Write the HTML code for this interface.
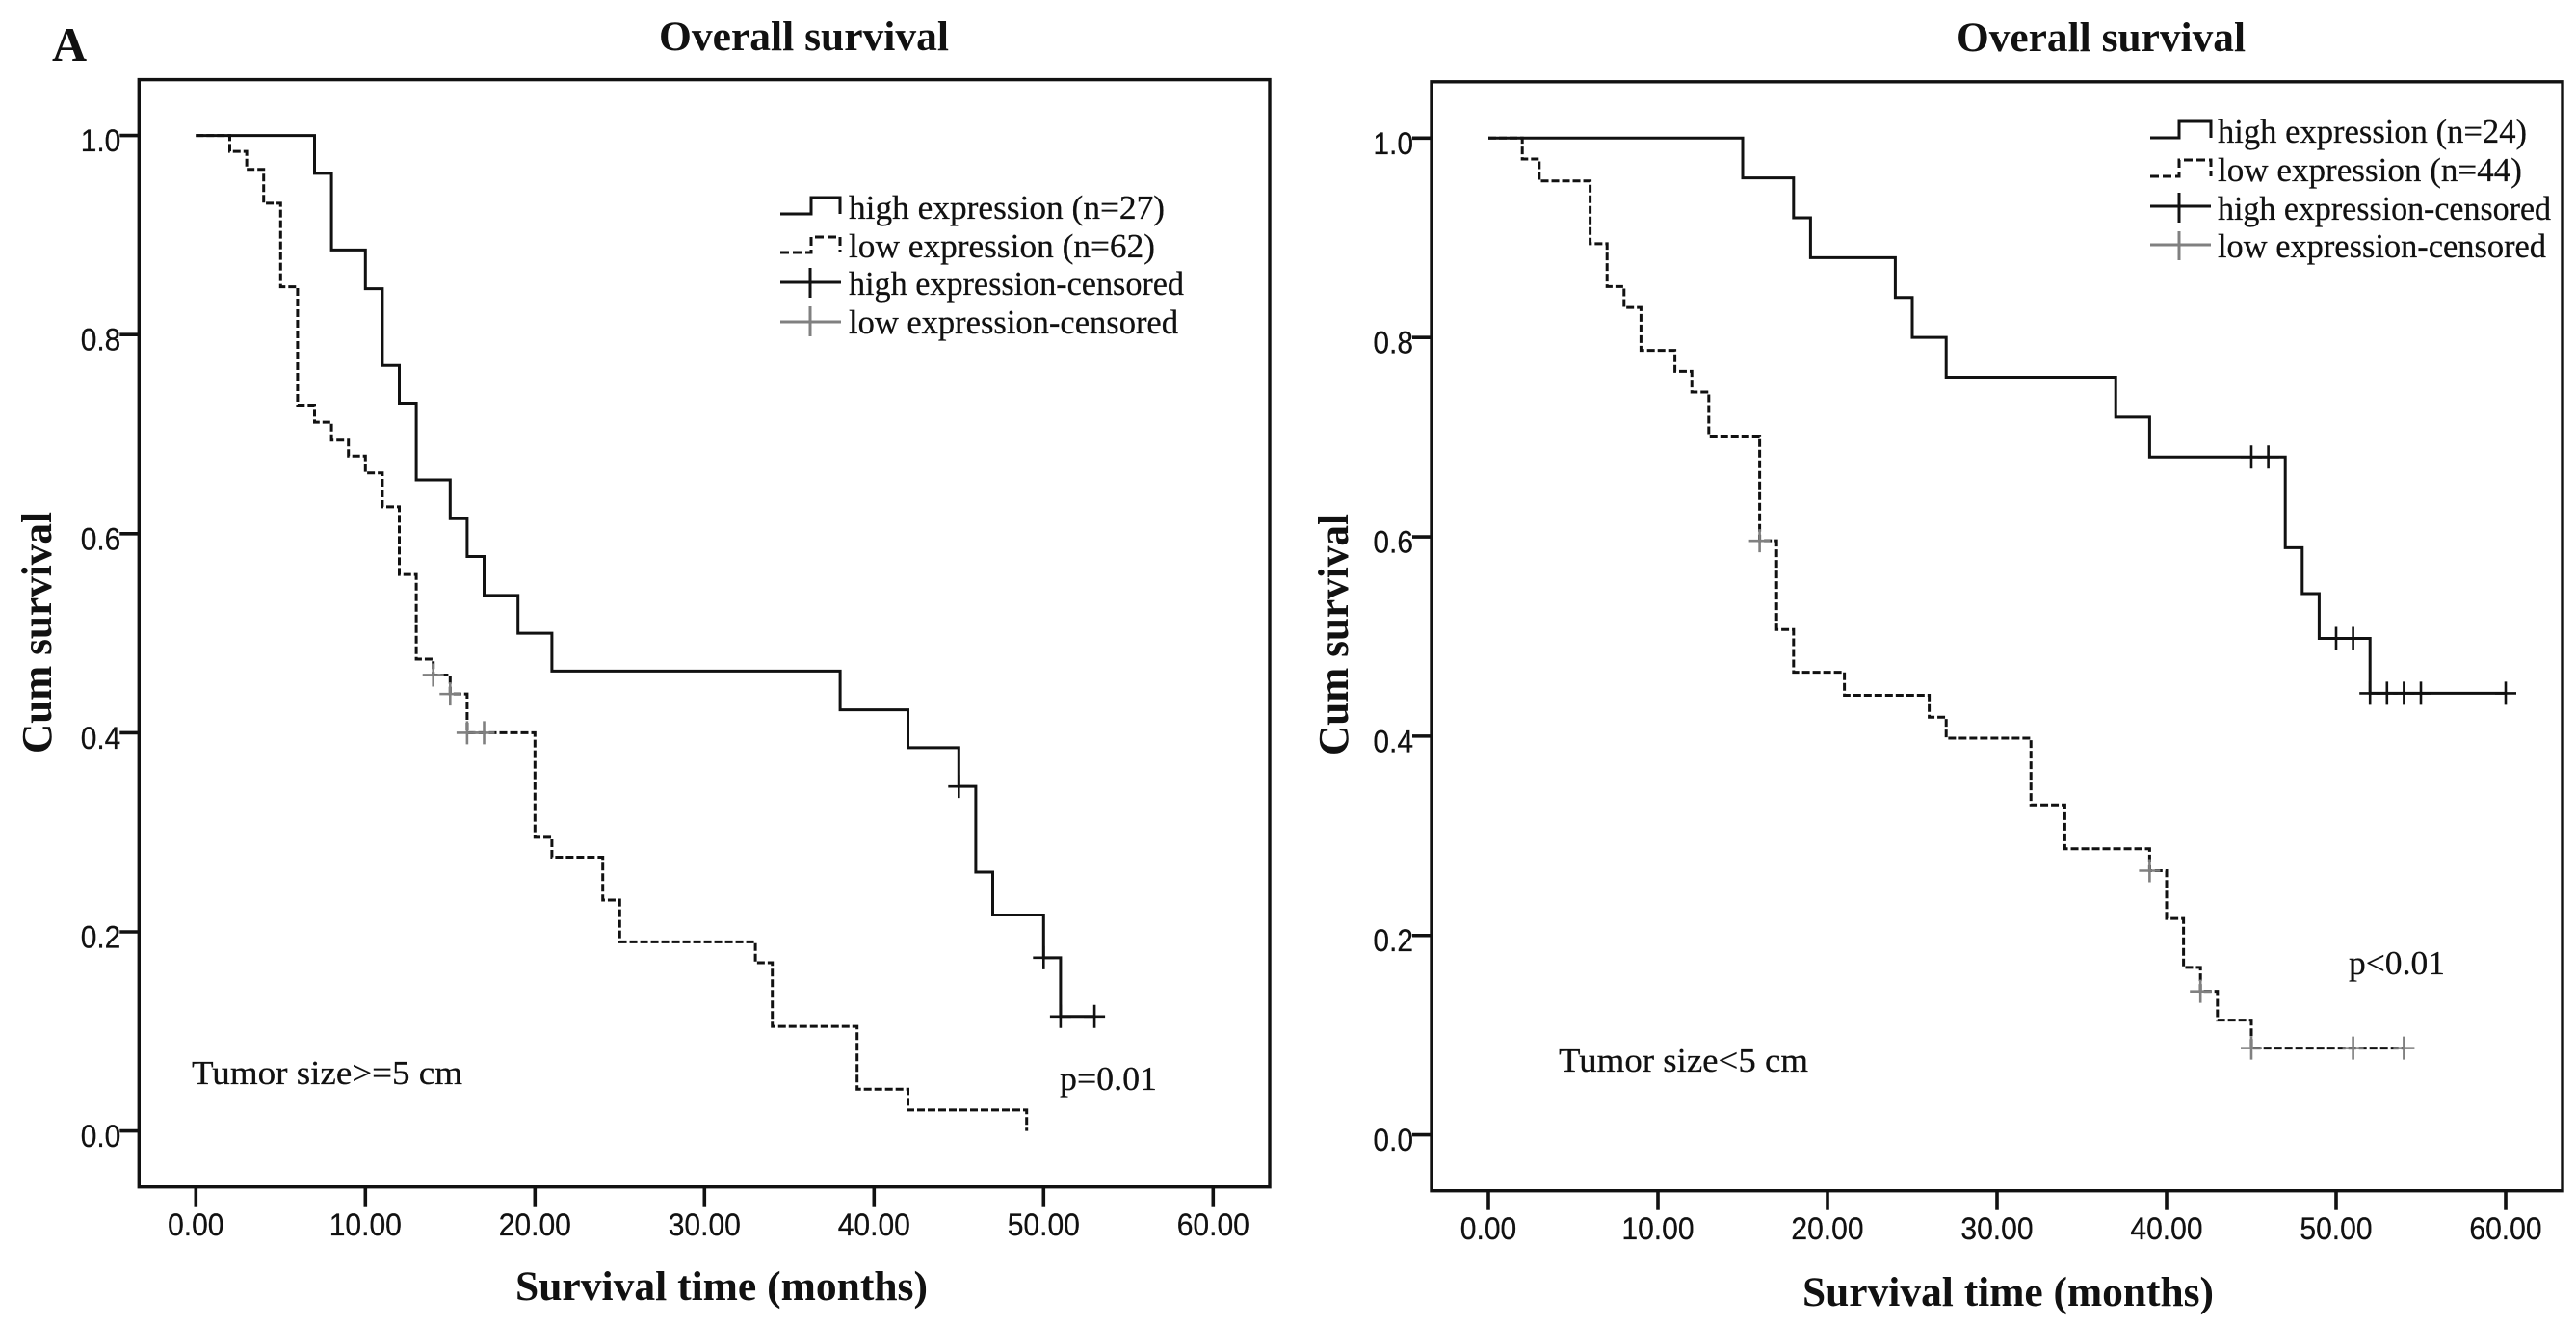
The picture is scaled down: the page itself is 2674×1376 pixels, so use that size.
<!DOCTYPE html>
<html lang="en">
<head>
<meta charset="utf-8">
<title>Overall survival by tumor size</title>
<style>
  html, body { margin: 0; padding: 0; background: #fff; width: 2674px; height: 1376px; overflow: hidden; }
  svg { display: block; }
  text { fill: #111; }
  .serif { font-family: "Liberation Serif", serif; }
  .bold { font-weight: bold; }
  .tick-label { font-family: "Liberation Sans", sans-serif; font-size: 32.5px; stroke: #111; stroke-width: 0.25px; }
  .legend-text, .note { font-family: "Liberation Serif", serif; font-size: 35px; stroke: #111; stroke-width: 0.25px; }
</style>
</head>
<body>
<svg id="figure" xmlns="http://www.w3.org/2000/svg" width="2674" height="1376" viewBox="0 0 2674 1376">
  <rect width="2674" height="1376" fill="#fff"/>
  <text class="serif bold" x="54" y="63" font-size="50">A</text>

  <g id="left-panel">
    <text class="serif bold" x="684" y="52" font-size="43" textLength="301" lengthAdjust="spacingAndGlyphs">Overall survival</text>
    <text class="serif bold" x="535" y="1349" font-size="43" textLength="428" lengthAdjust="spacingAndGlyphs">Survival time (months)</text>
    <text class="serif bold" transform="translate(53 782) rotate(-90)" font-size="44" textLength="251" lengthAdjust="spacingAndGlyphs">Cum survival</text>
    <text class="note" x="199" y="1125" textLength="281" lengthAdjust="spacingAndGlyphs">Tumor size&gt;=5 cm</text>
    <text class="note" x="1100" y="1131" textLength="101" lengthAdjust="spacingAndGlyphs">p=0.01</text>
    <g>
      <path d="M810 222H842V205H872V222" fill="none" stroke="#111" stroke-width="3"/>
      <text class="legend-text" x="881" y="227" textLength="328" lengthAdjust="spacingAndGlyphs">high expression (n=27)</text>
      <path d="M810 262H842V246H872V262" fill="none" stroke="#111" stroke-width="3" stroke-dasharray="9 4"/>
      <text class="legend-text" x="881" y="267" textLength="318" lengthAdjust="spacingAndGlyphs">low expression (n=62)</text>
      <path d="M810 293H873M841 278V309" fill="none" stroke="#111" stroke-width="3"/>
      <text class="legend-text" x="881" y="306" textLength="348" lengthAdjust="spacingAndGlyphs">high expression-censored</text>
      <path d="M810 334H873M841 318V349" fill="none" stroke="#808080" stroke-width="3"/>
      <text class="legend-text" x="881" y="346" textLength="342" lengthAdjust="spacingAndGlyphs">low expression-censored</text>
    </g>
  </g>

  <g id="right-panel">
    <text class="serif bold" x="2031" y="53" font-size="43" textLength="300" lengthAdjust="spacingAndGlyphs">Overall survival</text>
    <text class="serif bold" x="1871" y="1355" font-size="43" textLength="427" lengthAdjust="spacingAndGlyphs">Survival time (months)</text>
    <text class="serif bold" transform="translate(1399 784) rotate(-90)" font-size="44" textLength="251" lengthAdjust="spacingAndGlyphs">Cum survival</text>
    <text class="note" x="1618" y="1112" textLength="259" lengthAdjust="spacingAndGlyphs">Tumor size&lt;5 cm</text>
    <text class="note" x="2438" y="1011" textLength="100" lengthAdjust="spacingAndGlyphs">p&lt;0.01</text>
    <g>
      <path d="M2232 143H2262V126H2295V143" fill="none" stroke="#111" stroke-width="3"/>
      <text class="legend-text" x="2302" y="148" textLength="321" lengthAdjust="spacingAndGlyphs">high expression (n=24)</text>
      <path d="M2232 183H2262V166H2295V183" fill="none" stroke="#111" stroke-width="3" stroke-dasharray="9 4"/>
      <text class="legend-text" x="2302" y="188" textLength="316" lengthAdjust="spacingAndGlyphs">low expression (n=44)</text>
      <path d="M2232 214H2295M2262 200V231" fill="none" stroke="#111" stroke-width="3"/>
      <text class="legend-text" x="2302" y="228" textLength="346" lengthAdjust="spacingAndGlyphs">high expression-censored</text>
      <path d="M2232 254H2295M2262 240V270" fill="none" stroke="#808080" stroke-width="3"/>
      <text class="legend-text" x="2302" y="267" textLength="341" lengthAdjust="spacingAndGlyphs">low expression-censored</text>
    </g>
  </g>
</svg>

<script>
// Shared axis ticks
const xTickValues = [0, 10, 20, 30, 40, 50, 60];
const xTickLabels = ["0.00", "10.00", "20.00", "30.00", "40.00", "50.00", "60.00"];
const yTickValues = [0, 0.2, 0.4, 0.6, 0.8, 1];
const yTickLabels = ["0.0", "0.2", "0.4", "0.6", "0.8", "1.0"];

// Left panel (tumor size >= 5 cm)
const leftHighTimes = [0, 7, 8, 10, 11, 12, 13, 15, 16, 17, 19, 21, 38, 42, 45, 46, 47, 50, 51];
const leftHighSurvival = [1, 0.962, 0.885, 0.846, 0.769, 0.731, 0.654, 0.615, 0.577, 0.538, 0.5, 0.462, 0.423, 0.385, 0.346, 0.26, 0.217, 0.174, 0.115];
const leftHighCensored = [45, 50, 51, 53];
const leftLowTimes = [0, 2, 3, 4, 5, 6, 7, 8, 9, 10, 11, 12, 13, 14, 15, 16, 20, 21, 24, 25, 33, 34, 39, 42, 49];
const leftLowSurvival = [1, 0.984, 0.966, 0.932, 0.848, 0.729, 0.712, 0.694, 0.678, 0.661, 0.627, 0.559, 0.474, 0.458, 0.439, 0.4, 0.295, 0.275, 0.232, 0.19, 0.169, 0.105, 0.042, 0.021, 0];
const leftLowCensored = [14, 15, 16, 17];

// Right panel (tumor size < 5 cm)
const rightHighTimes = [0, 15, 18, 19, 24, 25, 27, 37, 39, 47, 48, 49, 52];
const rightHighSurvival = [1, 0.96, 0.92, 0.88, 0.84, 0.8, 0.76, 0.72, 0.68, 0.589, 0.543, 0.498, 0.443];
const rightHighCensored = [45, 46, 50, 51, 52, 53, 54, 55, 60];
const rightLowTimes = [0, 2, 3, 6, 7, 8, 9, 11, 12, 13, 16, 17, 18, 21, 26, 27, 32, 34, 39, 40, 41, 42, 43, 45];
const rightLowSurvival = [1, 0.979, 0.957, 0.894, 0.851, 0.83, 0.787, 0.766, 0.745, 0.701, 0.596, 0.507, 0.464, 0.441, 0.419, 0.398, 0.331, 0.287, 0.265, 0.217, 0.168, 0.144, 0.115, 0.087];
const rightLowCensored = [16, 39, 42, 45, 51, 54];

const SVG_NS = "http://www.w3.org/2000/svg";

function makeEl(parent, tag, attrs, text) {
  const el = document.createElementNS(SVG_NS, tag);
  for (const key in attrs) el.setAttribute(key, attrs[key]);
  if (text !== undefined) el.textContent = text;
  parent.appendChild(el);
  return el;
}

function labelWidth(text) {
  return (text.length - 1) * 16.8 + 8;
}

function drawAxes(group, prefix, box, xScale, yScale) {
  const frame = makeEl(group, "rect", { x: box.left, y: box.top, width: box.right - box.left, height: box.bottom - box.top, fill: "none", stroke: "#111", "stroke-width": 3.4 });
  
  

  xTickValues.forEach(function (value, i) {
    const tick = makeEl(group, "line", { x1: xScale(value), x2: xScale(value), y1: box.bottom, y2: box.bottom + 20, stroke: "#111", "stroke-width": 3.6 });
    
    
    const label = makeEl(group, "text", { x: xScale(value), y: box.bottom + 50.5, "text-anchor": "middle", class: "tick-label", textLength: labelWidth(xTickLabels[i]), lengthAdjust: "spacingAndGlyphs" }, xTickLabels[i]);
    
    
  });

  yTickValues.forEach(function (value, i) {
    const tick = makeEl(group, "line", { x1: box.left - 20, x2: box.left, y1: yScale(value), y2: yScale(value), stroke: "#111", "stroke-width": 3.6 });
    
    
    const label = makeEl(group, "text", { x: box.left - 19, y: yScale(value) + 16.5, "text-anchor": "end", class: "tick-label", textLength: labelWidth(yTickLabels[i]), lengthAdjust: "spacingAndGlyphs" }, yTickLabels[i]);
    
    
  });
}

function survivalAt(times, survival, t) {
  let s = survival[0];
  times.forEach(function (time, i) { if (time <= t) s = survival[i]; });
  return s;
}

function drawSeries(group, name, times, survival, censored, xScale, yScale, dash) {
  const lastCensored = censored.length ? censored[censored.length - 1] : times[times.length - 1];
  const endTime = Math.max(lastCensored, times[times.length - 1]);
  let d = "M" + xScale(times[0]) + " " + yScale(survival[0]);
  for (let i = 1; i < times.length; i++) {
    d += "H" + xScale(times[i]) + "V" + yScale(survival[i]);
  }
  d += "H" + xScale(endTime);
  const attrs = { d: d, fill: "none", stroke: "#111", "stroke-width": 3 };
  if (dash) attrs["stroke-dasharray"] = dash;
  const curve = makeEl(group, "path", attrs);
  
  
}

function drawCensored(group, name, times, survival, censored, xScale, yScale, colour) {
  censored.forEach(function (t) {
    const x = xScale(t);
    const y = yScale(survivalAt(times, survival, t));
    const mark = makeEl(group, "path", { d: "M" + (x - 11) + " " + y + "H" + (x + 11) + "M" + x + " " + (y - 12) + "V" + (y + 12), fill: "none", stroke: colour, "stroke-width": 2.6 });
    
    
  });
}

function drawPanel(groupId, prefix, box, axis, high, low) {
  const group = document.getElementById(groupId);
  const xScale = function (t) { return axis.x0 + t * axis.pxPerMonth; };
  const yScale = function (s) { return axis.y0 - s * (axis.y0 - axis.y1); };
  drawAxes(group, prefix, box, xScale, yScale);
  drawSeries(group, prefix + "-low-expression", low.times, low.survival, low.censored, xScale, yScale, "8 3");
  drawSeries(group, prefix + "-high-expression", high.times, high.survival, high.censored, xScale, yScale, null);
  drawCensored(group, prefix + "-low-expression", low.times, low.survival, low.censored, xScale, yScale, "#808080");
  drawCensored(group, prefix + "-high-expression", high.times, high.survival, high.censored, xScale, yScale, "#111");
}

drawPanel("left-panel", "left",
  { left: 144.3, right: 1318, top: 82.6, bottom: 1231.7 },
  { x0: 203.3, pxPerMonth: 17.6, y0: 1173.6, y1: 140.6 },
  { times: leftHighTimes, survival: leftHighSurvival, censored: leftHighCensored },
  { times: leftLowTimes, survival: leftLowSurvival, censored: leftLowCensored });

drawPanel("right-panel", "right",
  { left: 1486, right: 2660, top: 84.8, bottom: 1235.7 },
  { x0: 1545, pxPerMonth: 17.6, y0: 1177.6, y1: 143.3 },
  { times: rightHighTimes, survival: rightHighSurvival, censored: rightHighCensored },
  { times: rightLowTimes, survival: rightLowSurvival, censored: rightLowCensored });
</script>
</body>
</html>
